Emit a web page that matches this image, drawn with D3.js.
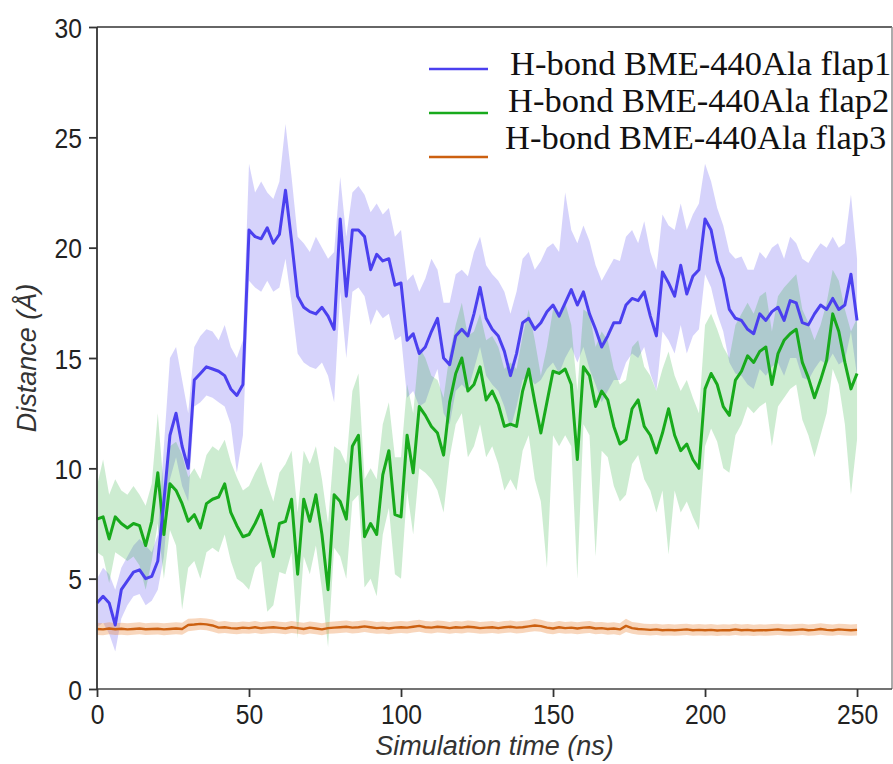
<!DOCTYPE html>
<html>
<head>
<meta charset="utf-8">
<script src="https://cdn.jsdelivr.net/npm/d3@7"></script>
<style>
  body { margin: 0; background: #fff; }
  svg { display: block; }
</style>
</head>
<body>
<div id="chart"></div>
<script>
// time axis: one value every 2 ns, 0..250
var time_step = 2;

var x_ticks = [0, 50, 100, 150, 200, 250];
var y_ticks = [0, 5, 10, 15, 20, 25, 30];

var legend_labels = ["H-bond BME-440Ala flap1", "H-bond BME-440Ala flap2", "H-bond BME-440Ala flap3"];

// flap1 (blue)
var flap1_mean = [
  3.9, 4.2, 3.9, 2.9, 4.5, 4.9, 5.3, 5.4, 5.0, 5.1,
  5.8, 8.5, 11.5, 12.5, 11.0, 10.0, 14.0, 14.3, 14.6, 14.5,
  14.4, 14.2, 13.6, 13.3, 13.8, 20.8, 20.5, 20.4, 20.9, 20.2,
  20.6, 22.6, 20.3, 17.8, 17.3, 17.1, 17.0, 17.3, 16.9, 16.3,
  21.3, 17.8, 20.8, 20.8, 20.5, 19.0, 19.7, 19.4, 19.5, 18.3,
  18.4, 15.8, 16.1, 15.2, 15.5, 16.2, 16.8, 15.0, 14.7, 16.0,
  16.3, 16.0, 17.0, 18.2, 16.8, 16.3, 16.0, 15.3, 14.2, 15.2,
  16.6, 16.8, 16.3, 16.6, 17.1, 17.4, 16.9, 17.5, 18.1, 17.4,
  18.0, 17.0, 16.3, 15.5, 16.0, 16.6, 16.6, 17.4, 17.7, 17.6,
  18.0, 16.9, 16.0, 18.9, 18.4, 17.8, 19.2, 17.9, 18.7, 19.0,
  21.3, 20.8, 19.4, 18.6, 17.2, 16.8, 16.7, 16.3, 16.1, 17.0,
  16.7, 17.1, 17.3, 16.7, 17.6, 17.5, 16.6, 16.5, 17.0, 17.4,
  17.2, 17.7, 17.2, 17.4, 18.8, 16.7
];
var flap1_hi = [
  5.0, 5.5, 5.2, 4.5, 5.5, 6.0, 6.5, 6.8, 6.5, 6.2,
  7.0, 11.0, 15.0, 15.5, 14.0, 12.5, 15.5, 16.0, 16.3, 16.2,
  15.8, 16.5, 15.5, 15.0, 15.8, 23.8, 22.5, 23.0, 22.5, 22.2,
  23.0, 25.6, 23.2, 20.5, 20.2, 19.8, 20.5, 20.0, 19.5, 19.8,
  23.2, 20.5, 22.5, 22.8, 22.4, 21.6, 22.0, 21.5, 21.8, 20.5,
  20.8, 18.5, 18.8, 18.0, 18.6, 19.5, 19.0, 17.5, 17.5, 18.8,
  19.0, 18.7, 19.8, 20.5, 19.2, 18.8, 18.5, 18.0, 17.0, 18.0,
  19.5, 19.8, 19.0, 19.4, 20.0, 20.2, 19.8, 22.5, 20.8, 20.2,
  21.0, 20.3, 19.2, 18.5, 19.0, 19.5, 19.4, 20.5, 20.8, 20.2,
  21.2, 19.8, 19.0, 21.5, 21.0, 20.8, 22.0, 20.8, 21.5, 22.0,
  23.8, 23.0, 21.8, 21.0, 19.8, 19.5, 19.6, 19.0, 19.0, 19.8,
  19.5, 20.0, 20.2, 19.5, 20.5, 20.2, 19.5, 19.3, 19.8, 20.2,
  20.0, 20.5, 20.0, 20.2, 22.4, 19.5
];
var flap1_lo = [
  2.8, 3.0, 2.5, 1.7, 3.2, 3.8, 4.2, 4.3, 3.8, 4.0,
  4.5, 6.0, 9.5, 10.5, 9.2, 8.5, 12.8, 13.0, 13.3, 13.2,
  13.0, 12.8, 12.0, 9.8, 11.5, 18.5, 18.2, 18.0, 18.5, 18.0,
  18.2, 19.5, 17.5, 15.2, 14.8, 14.6, 14.5, 14.8, 14.2, 13.0,
  18.0, 15.0, 18.0, 18.2, 17.8, 16.5, 17.2, 16.8, 17.0, 15.8,
  16.0, 13.2, 13.5, 12.8, 13.0, 13.8, 14.5, 12.5, 12.0, 13.5,
  13.8, 13.5, 14.5, 15.5, 14.2, 13.8, 13.5, 12.8, 11.8, 12.8,
  14.0, 14.2, 13.8, 14.0, 14.5, 14.8, 14.3, 15.0, 15.5, 14.8,
  15.5, 14.5, 13.8, 13.0, 13.5, 14.0, 14.0, 14.8, 15.2, 15.0,
  15.5, 14.3, 13.5, 16.2, 15.8, 15.2, 16.5, 15.2, 16.0, 16.3,
  18.8, 18.2, 17.0, 16.2, 14.8, 14.3, 14.2, 13.8, 13.6, 14.5,
  14.2, 14.6, 14.8, 14.2, 15.0, 15.0, 14.1, 14.0, 14.5, 14.9,
  14.7, 15.2, 14.7, 14.9, 16.2, 14.2
];

// flap2 (green)
var flap2_mean = [
  7.7, 7.8, 6.8, 7.8, 7.5, 7.3, 7.5, 7.4, 6.5, 7.6,
  9.8, 7.0, 9.3, 9.0, 8.4, 7.6, 7.9, 7.3, 8.4, 8.6,
  8.7, 9.3, 8.0, 7.4, 6.9, 7.0, 7.5, 8.1, 7.0, 6.0,
  7.5, 7.6, 8.6, 5.2, 8.6, 7.6, 8.8, 7.0, 4.5, 8.8,
  8.5, 7.7, 11.0, 11.5, 6.9, 7.5, 7.0, 9.7, 10.8, 7.9,
  7.8, 11.5, 9.8, 12.8, 12.4, 11.9, 11.6, 10.6, 13.0, 14.3,
  15.0, 13.5, 13.8, 14.6, 13.1, 13.5, 12.9, 11.9, 12.0, 11.9,
  13.5, 14.5, 13.0, 11.6, 13.0, 14.4, 14.3, 14.5, 13.8, 10.4,
  14.6, 14.2, 12.8, 13.5, 13.1, 11.9, 11.1, 11.3, 12.7, 13.1,
  11.9, 11.5, 10.7, 11.6, 12.7, 11.5, 10.8, 11.1, 10.4, 10.0,
  13.6, 14.3, 13.8, 12.8, 12.4, 14.0, 14.4, 15.1, 14.8, 15.3,
  15.5, 13.8, 15.2, 15.8, 16.1, 16.3, 14.8, 14.1, 13.2, 14.0,
  14.9, 17.0, 16.2, 14.8, 13.6, 14.3
];
var flap2_hi = [
  9.2, 10.4, 8.8, 9.5, 9.0, 8.8, 9.2, 8.8, 8.3, 9.3,
  12.5, 9.0, 11.0, 11.2, 10.6, 9.6, 10.0, 9.5, 10.6, 11.0,
  10.8, 11.3, 10.3, 9.6, 9.0, 9.2, 9.8, 10.3, 9.3, 8.5,
  9.8, 10.2, 10.8, 8.0, 10.8, 10.2, 11.0, 9.5, 7.5, 11.0,
  10.8, 10.2, 13.5, 14.3, 9.5, 10.0, 9.5, 12.0, 13.0, 10.5,
  10.5, 13.8, 12.5, 15.5, 15.0, 14.2, 14.0, 13.2, 15.2, 16.5,
  17.5, 16.0, 16.2, 17.0, 15.8, 16.0, 15.5, 14.5, 14.8, 14.5,
  16.0, 17.2, 15.8, 14.2, 15.5, 17.2, 17.0, 17.5, 16.5, 13.5,
  17.2, 17.0, 15.5, 16.2, 15.8, 14.5, 13.8, 14.0, 15.5, 15.8,
  14.6, 14.2, 13.5, 14.5, 15.3, 14.2, 13.5, 14.0, 13.2, 12.5,
  16.5, 17.0, 16.3, 15.5, 15.0, 16.5, 17.0, 17.5, 17.0, 17.8,
  18.0, 16.2, 17.8, 18.2, 18.5, 18.8, 17.2, 16.6, 15.8, 16.5,
  17.5, 19.0, 18.5, 17.2, 16.2, 16.8
];
var flap2_lo = [
  6.2, 6.0, 4.8, 6.2, 6.0, 5.8, 6.0, 5.6, 4.5, 5.8,
  7.5, 5.0, 7.2, 6.5, 3.6, 5.5, 5.8, 5.0, 6.2, 6.4,
  6.2, 7.0, 5.8, 5.0, 4.8, 4.5, 5.5, 5.8, 3.5, 3.8,
  5.3, 5.2, 6.2, 2.3, 6.0, 5.2, 6.5, 4.5, 1.9, 6.4,
  6.0, 5.0, 8.5, 8.8, 4.6, 5.0, 4.2, 7.0, 8.2, 5.2,
  5.0, 9.0, 7.0, 10.0, 9.8, 9.5, 9.0, 8.0, 10.5, 12.0,
  12.5, 10.5, 11.0, 12.0, 10.5, 11.0, 10.2, 9.0, 9.5, 9.0,
  10.8, 11.5, 9.5, 8.5, 5.5, 11.5, 11.0, 11.5, 11.0, 5.0,
  12.0, 11.5, 6.0, 10.8, 10.5, 9.2, 8.5, 8.8, 10.2, 10.6,
  9.5, 9.0, 8.0, 9.0, 6.1, 9.0, 8.0, 8.5, 7.8, 7.2,
  11.0, 11.8, 11.2, 10.0, 9.8, 11.5, 12.0, 12.8, 12.5, 12.8,
  13.0, 11.0, 12.8, 13.2, 13.6, 13.8, 12.2, 11.5, 10.5, 11.5,
  12.5, 14.5, 13.8, 12.0, 8.8, 11.3
];

// flap3 (orange)
var flap3_mean = [
  2.72, 2.70, 2.74, 2.71, 2.73, 2.70, 2.72, 2.74, 2.71, 2.72,
  2.73, 2.70, 2.72, 2.74, 2.72, 2.90, 2.92, 2.95, 2.93, 2.88,
  2.78, 2.80, 2.76, 2.74, 2.78, 2.76, 2.80, 2.75, 2.78, 2.80,
  2.77, 2.74, 2.80, 2.76, 2.72, 2.78, 2.74, 2.70, 2.76, 2.78,
  2.80, 2.82, 2.78, 2.80, 2.84, 2.80, 2.76, 2.78, 2.74, 2.78,
  2.80, 2.78, 2.82, 2.86, 2.80, 2.78, 2.82, 2.80, 2.76, 2.80,
  2.78, 2.82, 2.80, 2.76, 2.78, 2.80, 2.76, 2.80, 2.82, 2.78,
  2.80, 2.84, 2.88, 2.85, 2.78, 2.74, 2.80, 2.76, 2.78, 2.74,
  2.78, 2.80, 2.74, 2.76, 2.72, 2.74, 2.70, 2.86, 2.76, 2.72,
  2.70, 2.68, 2.70, 2.66, 2.68, 2.66, 2.68, 2.70, 2.66, 2.68,
  2.66, 2.68, 2.65, 2.67, 2.66, 2.70, 2.66, 2.68, 2.65, 2.67,
  2.66, 2.68, 2.70, 2.67, 2.66, 2.68, 2.70, 2.66, 2.68, 2.72,
  2.68, 2.66, 2.70, 2.68, 2.66, 2.68
];
var flap3_hi = [
  3.00, 2.98, 3.02, 2.98, 3.00, 2.98, 3.00, 3.02, 2.98, 3.00,
  3.00, 2.98, 3.00, 3.02, 3.00, 3.18, 3.20, 3.22, 3.20, 3.15,
  3.05, 3.08, 3.04, 3.02, 3.06, 3.04, 3.08, 3.02, 3.06, 3.08,
  3.05, 3.02, 3.08, 3.04, 3.00, 3.06, 3.02, 2.98, 3.04, 3.06,
  3.08, 3.10, 3.06, 3.08, 3.12, 3.08, 3.04, 3.06, 3.02, 3.06,
  3.08, 3.06, 3.10, 3.14, 3.08, 3.06, 3.10, 3.08, 3.04, 3.08,
  3.06, 3.10, 3.08, 3.04, 3.06, 3.08, 3.04, 3.08, 3.10, 3.06,
  3.08, 3.12, 3.18, 3.14, 3.06, 3.02, 3.08, 3.04, 3.06, 3.02,
  3.06, 3.08, 3.02, 3.04, 3.00, 3.02, 2.98, 3.18, 3.04, 3.00,
  2.96, 2.94, 2.96, 2.92, 2.94, 2.92, 2.94, 2.96, 2.92, 2.94,
  2.92, 2.94, 2.91, 2.93, 2.92, 2.96, 2.92, 2.94, 2.91, 2.93,
  2.92, 2.94, 2.96, 2.93, 2.92, 2.94, 2.96, 2.92, 2.94, 2.98,
  2.94, 2.92, 2.96, 2.94, 2.92, 2.94
];
var flap3_lo = [
  2.45, 2.44, 2.48, 2.45, 2.46, 2.44, 2.46, 2.48, 2.45, 2.46,
  2.47, 2.44, 2.46, 2.48, 2.46, 2.62, 2.65, 2.68, 2.66, 2.60,
  2.52, 2.54, 2.50, 2.48, 2.52, 2.50, 2.54, 2.49, 2.52, 2.54,
  2.51, 2.48, 2.54, 2.50, 2.46, 2.52, 2.48, 2.44, 2.50, 2.52,
  2.54, 2.56, 2.52, 2.54, 2.58, 2.54, 2.50, 2.52, 2.48, 2.52,
  2.54, 2.52, 2.56, 2.60, 2.54, 2.52, 2.56, 2.54, 2.50, 2.54,
  2.52, 2.56, 2.54, 2.50, 2.52, 2.54, 2.50, 2.54, 2.56, 2.52,
  2.54, 2.58, 2.62, 2.59, 2.52, 2.48, 2.54, 2.50, 2.52, 2.48,
  2.52, 2.54, 2.48, 2.50, 2.46, 2.48, 2.44, 2.58, 2.50, 2.46,
  2.45, 2.43, 2.45, 2.41, 2.43, 2.41, 2.43, 2.45, 2.41, 2.43,
  2.41, 2.43, 2.40, 2.42, 2.41, 2.45, 2.41, 2.43, 2.40, 2.42,
  2.41, 2.43, 2.45, 2.42, 2.41, 2.43, 2.45, 2.41, 2.43, 2.46,
  2.43, 2.41, 2.45, 2.43, 2.41, 2.43
];

var width = 893, height = 764;
var plot = {left: 97, right: 892, top: 27, bottom: 689};

function make_rows(mean, lo, hi) {
  return mean.map(function(m, i) {
    return {t: i * time_step, mean: m, lo: lo[i], hi: hi[i]};
  });
}

var series = [
  {name: legend_labels[0], rows: make_rows(flap1_mean, flap1_lo, flap1_hi),
   line: "#4b40ef", band: "#5a50f0", band_op: 0.25, lw: 3},
  {name: legend_labels[1], rows: make_rows(flap2_mean, flap2_lo, flap2_hi),
   line: "#18aa1c", band: "#30b040", band_op: 0.24, lw: 3},
  {name: legend_labels[2], rows: make_rows(flap3_mean, flap3_lo, flap3_hi),
   line: "#cc6010", band: "#ec8a40", band_op: 0.35, lw: 2.4}
];

var x = d3.scaleLinear()
  .domain([0, 261.5])
  .range([plot.left, plot.right]);

var y = d3.scaleLinear()
  .domain([0, 30])
  .range([plot.bottom, plot.top]);

var svg = d3.select("#chart").append("svg")
  .attr("width", width)
  .attr("height", height);

var area = d3.area()
  .x(function(d) { return x(d.t); })
  .y0(function(d) { return y(d.lo); })
  .y1(function(d) { return y(d.hi); });

var line = d3.line()
  .x(function(d) { return x(d.t); })
  .y(function(d) { return y(d.mean); });

// bands first, then mean lines on top
series.forEach(function(s) {
  svg.append("path")
    .datum(s.rows)
    .attr("d", area)
    .attr("fill", s.band)
    .attr("fill-opacity", s.band_op)
    .attr("stroke", "none");
});

[series[1], series[0], series[2]].forEach(function(s) {
  svg.append("path")
    .datum(s.rows)
    .attr("d", line)
    .attr("fill", "none")
    .attr("stroke", s.line)
    .attr("stroke-width", s.lw)
    .attr("stroke-linejoin", "round");
});

// spines
svg.append("line").attr("x1", plot.left).attr("x2", plot.right)
  .attr("y1", plot.top).attr("y2", plot.top)
  .attr("stroke", "#333").attr("stroke-width", 1.6);
svg.append("line").attr("x1", plot.right).attr("x2", plot.right)
  .attr("y1", plot.top).attr("y2", plot.bottom)
  .attr("stroke", "#888").attr("stroke-width", 1.4);
svg.append("line").attr("x1", plot.left).attr("x2", plot.right)
  .attr("y1", plot.bottom).attr("y2", plot.bottom)
  .attr("stroke", "#444").attr("stroke-width", 1.6);
svg.append("line").attr("x1", plot.left).attr("x2", plot.left)
  .attr("y1", plot.top).attr("y2", plot.bottom)
  .attr("stroke", "#333").attr("stroke-width", 1.8);

var xAxis = d3.axisBottom(x).tickValues(x_ticks).tickSize(8).tickSizeOuter(0).tickPadding(7);
var yAxis = d3.axisLeft(y).tickValues(y_ticks).tickSize(8).tickSizeOuter(0).tickPadding(7);

var gx = svg.append("g")
  .attr("transform", "translate(0," + plot.bottom + ")")
  .call(xAxis);
var gy = svg.append("g")
  .attr("transform", "translate(" + plot.left + ",0)")
  .call(yAxis);

[gx, gy].forEach(function(g) {
  g.select(".domain").remove();
  g.selectAll(".tick line").attr("stroke", "#333").attr("stroke-width", 1.8);
  g.selectAll(".tick text")
    .attr("fill", "#222")
    .style("font-family", "'Liberation Sans', Arial, sans-serif")
    .style("font-size", "28px")
    .each(function() {
      // the reference digits are a bit narrower than Arial
      var w = this.getComputedTextLength();
      d3.select(this).attr("textLength", w * 0.88).attr("lengthAdjust", "spacingAndGlyphs");
    });
});
gy.selectAll(".tick text").attr("dy", "0.36em");

// axis titles
svg.append("text")
  .attr("x", (plot.left + plot.right) / 2)
  .attr("y", 755)
  .attr("text-anchor", "middle")
  .style("font-family", "'Liberation Sans', Arial, sans-serif")
  .style("font-size", "27px")
  .style("font-style", "italic")
  .attr("fill", "#333")
  .text("Simulation time (ns)");

svg.append("text")
  .attr("transform", "translate(36," + (plot.top + plot.bottom) / 2 + ") rotate(-90)")
  .attr("text-anchor", "middle")
  .style("font-family", "'Liberation Sans', Arial, sans-serif")
  .style("font-size", "27px")
  .style("font-style", "italic")
  .attr("fill", "#333")
  .text("Distance (\u00c5)");

// legend
var legend_pos = [
  {lx: 429, ly: 69, tx: 510, ty: 75},
  {lx: 429, ly: 113, tx: 508, ty: 112},
  {lx: 429, ly: 157, tx: 505, ty: 149}
];

series.forEach(function(s, i) {
  var p = legend_pos[i];
  svg.append("line")
    .attr("x1", p.lx).attr("x2", p.lx + 59)
    .attr("y1", p.ly).attr("y2", p.ly)
    .attr("stroke", s.line)
    .attr("stroke-width", 2.6);
  svg.append("text")
    .attr("x", p.tx)
    .attr("y", p.ty)
    .style("font-family", "'Liberation Serif', 'Times New Roman', serif")
    .style("font-size", "34.5px")
    .attr("fill", "#111")
    .text(s.name);
});
</script>
</body>
</html>
